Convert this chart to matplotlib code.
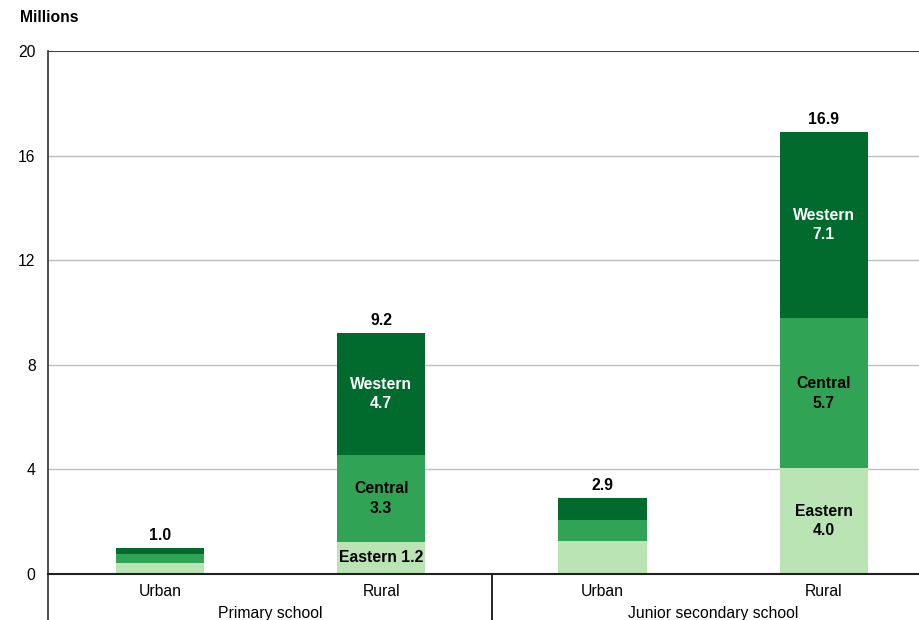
import matplotlib
matplotlib.use("Agg")
import matplotlib.pyplot as plt
import matplotlib.transforms as mtransforms
import numpy as np

plt.rcParams['font.family'] = ['Liberation Sans', 'DejaVu Sans']

# data (millions)
locations = ["Urban", "Rural", "Urban", "Rural"]
groups = ["Primary school", "Junior secondary school"]
eastern = [0.42, 1.24, 1.25, 4.04]
central = [0.34, 3.31, 0.82, 5.74]
western = [0.24, 4.66, 0.83, 7.12]
yticks = [0, 4, 8, 12, 16, 20]

c_dark = "#006b2d"
c_mid = "#31a354"
c_light = "#bae4b3"

fig = plt.figure(figsize=(9.19, 6.2), dpi=100)
ax = fig.add_axes([48 / 919, 1 - 574 / 620, 1 - 48 / 919, (574 - 51) / 620])

x = np.arange(len(locations))
w = 0.40
e = np.array(eastern)
c = np.array(central)
wv = np.array(western)
total = e + c + wv

ax.bar(x, e, w, color=c_light, zorder=2)
ax.bar(x, c, w, bottom=e, color=c_mid, zorder=2)
ax.bar(x, wv, w, bottom=e + c, color=c_dark, zorder=2)

fs = 11.3
ls = 1.38

# totals above bars
for xi, t in zip(x, total):
    ax.text(xi, t + 0.2, f"{t:.1f}", ha="center", va="bottom",
            fontsize=fs, fontweight="bold", color="black")

# segment labels on rural bars
ax.text(x[1], e[1] / 2, f"Eastern {e[1]:.1f}", ha="center", va="center",
        fontsize=fs, fontweight="bold", color="black")
for i in (1, 3):
    ax.text(x[i], e[i] + c[i] / 2, f"Central\n{c[i]:.1f}", ha="center", va="center",
            fontsize=fs, fontweight="bold", color="black", linespacing=ls)
    ax.text(x[i], e[i] + c[i] + wv[i] / 2, f"Western\n{wv[i]:.1f}", ha="center",
            va="center", fontsize=fs, fontweight="bold", color="white", linespacing=ls)
ax.text(x[3], e[3] / 2, f"Eastern\n{e[3]:.1f}", ha="center", va="center",
        fontsize=fs, fontweight="bold", color="black", linespacing=ls)

ax.set_xlim(-0.505, 3.43)
ax.set_ylim(0, 20)
ax.set_yticks(yticks)
ax.set_yticklabels([str(v) for v in yticks], fontsize=fs)
ax.tick_params(axis="y", length=0, pad=9)
ax.set_xticks(x)
ax.set_xticklabels(locations, fontsize=fs)
ax.tick_params(axis="x", length=0, pad=7)

for yv in yticks[1:-1]:
    ax.axhline(yv, color="#bfbfbf", lw=1, zorder=1)
ax.axhline(20, color="#404040", lw=1.5, zorder=1)

for s in ("top", "right"):
    ax.spines[s].set_visible(False)
ax.spines["left"].set_color("#303030")
ax.spines["left"].set_linewidth(1.2)
ax.spines["bottom"].set_color("#202020")
ax.spines["bottom"].set_linewidth(1.5)

# group labels and separators below the axis
trans = mtransforms.blended_transform_factory(ax.transData, ax.transAxes)
for gi, g in enumerate(groups):
    ax.text(x[2 * gi:2 * gi + 2].mean(), -0.075, g, transform=trans,
            ha="center", va="center", fontsize=fs)
ax.plot([1.5, 1.5], [0, -0.12], transform=trans, color="black", lw=1.2, clip_on=False)
ax.plot([-0.505, -0.505], [0, -0.12], transform=trans, color="#303030", lw=1.2, clip_on=False)

fig.text(20 / 919, 1 - 18 / 620, "Millions", ha="left", va="center",
         fontsize=fs, fontweight="bold")

fig.savefig("out.png", dpi=100)
